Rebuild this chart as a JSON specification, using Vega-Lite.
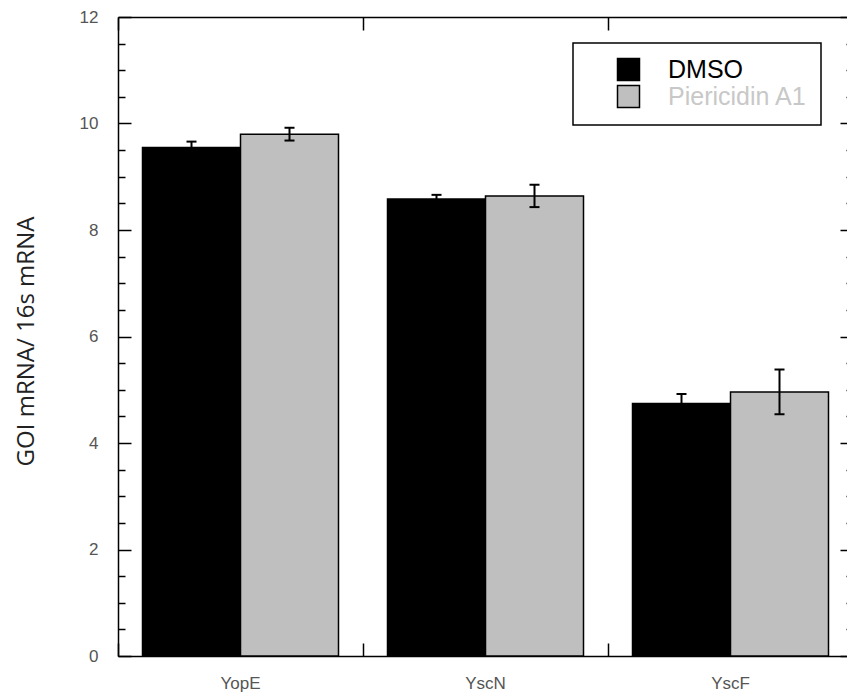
{
  "$schema": "https://vega.github.io/schema/vega-lite/v6.json",
  "width": 729,
  "height": 639,
  "autosize": {"type": "none"},
  "padding": {"left": 118, "top": 17, "right": 0, "bottom": 40},
  "background": "white",
  "config": {"view": {"stroke": null}, "font": "Liberation Sans"},
  "data": {
    "values": [
      {"gene": "YopE", "treatment": "DMSO", "value": 9.55, "lo": 9.44, "hi": 9.66},
      {"gene": "YopE", "treatment": "Piericidin A1", "value": 9.80, "lo": 9.68, "hi": 9.92},
      {"gene": "YscN", "treatment": "DMSO", "value": 8.58, "lo": 8.50, "hi": 8.66},
      {"gene": "YscN", "treatment": "Piericidin A1", "value": 8.64, "lo": 8.43, "hi": 8.85},
      {"gene": "YscF", "treatment": "DMSO", "value": 4.74, "lo": 4.57, "hi": 4.92},
      {"gene": "YscF", "treatment": "Piericidin A1", "value": 4.96, "lo": 4.54, "hi": 5.38}
    ]
  },
  "layer": [
    {
      "transform": [{"filter": "datum.treatment === 'DMSO'"}],
      "mark": {"type": "bar", "stroke": "black", "strokeWidth": 1.5},
      "encoding": {
        "x": {
          "field": "gene", "type": "nominal", "sort": ["YopE", "YscN", "YscF"],
          "scale": {"domain": ["YopE", "YscN", "YscF"], "range": [0, 735], "paddingInner": 0, "paddingOuter": 0},
          "axis": {
            "orient": "bottom", "title": null, "labelAngle": 0, "ticks": false,
            "domainColor": "black", "domainWidth": 1.5,
            "labelFontSize": 17, "labelColor": "#555", "labelPadding": 19, "labelFont": "Liberation Sans"
          }
        },
        "xOffset": {
          "field": "treatment", "type": "nominal",
          "scale": {"domain": ["DMSO", "Piericidin A1"], "paddingInner": 0, "paddingOuter": 0.25}
        },
        "y": {
          "field": "value", "type": "quantitative",
          "scale": {"domain": [0, 12], "nice": false, "zero": true},
          "axis": {
            "orient": "left", "grid": false, "format": "d", "ticks": false,
            "values": [0, 2, 4, 6, 8, 10, 12],
            "domainColor": "black", "domainWidth": 1.5,
            "labelFontSize": 17, "labelColor": "#555", "labelPadding": 20, "labelFont": "Liberation Sans",
            "title": "GOI mRNA/ 16s mRNA",
            "titleFont": "Open Sans", "titleFontSize": 24, "titleFontWeight": "normal", "titleColor": "#222",
            "titleAngle": -90, "titleX": -92, "titleY": 324, "titleAlign": "center", "titleBaseline": "middle"
          }
        },
        "fill": {
          "field": "treatment", "type": "nominal",
          "scale": {"domain": ["DMSO", "Piericidin A1"], "range": ["black", "#bfbfbf"]},
          "legend": {
            "title": null, "orient": "none", "legendX": 455, "legendY": 26,
            "symbolType": "square", "symbolSize": 484, "symbolStrokeColor": "black", "symbolStrokeWidth": 1.5,
            "symbolOpacity": 1,
            "labelFontSize": 25, "labelFont": "Liberation Sans", "labelLimit": 300,
            "padding": 14, "strokeColor": "black", "rowPadding": -2,
            "symbolOffset": 29, "labelOffset": 27,
            "encode": {
              "labels": {"update": {"fill": {"signal": "datum.label === 'DMSO' ? 'black' : '#c8c8c8'"}}},
              "legend": {"update": {"strokeWidth": {"value": 1.5}}}
            }
          }
        }
      }
    },
    {
      "transform": [{"filter": "datum.treatment === 'Piericidin A1'"}],
      "mark": {"type": "bar", "stroke": "black", "strokeWidth": 1.5},
      "encoding": {
        "x": {
          "field": "gene", "type": "nominal", "sort": ["YopE", "YscN", "YscF"],
          "axis": {
            "orient": "bottom", "offset": -13, "title": null, "labels": false, "domain": false,
            "tickBand": "extent", "tickSize": 13, "tickWidth": 1.5, "tickColor": "black"
          }
        },
        "xOffset": {"field": "treatment", "type": "nominal"},
        "y": {
          "field": "value", "type": "quantitative",
          "axis": {
            "orient": "left", "offset": -13, "grid": false, "labels": false, "domain": false, "title": null,
            "values": [0, 2, 4, 6, 8, 10, 12],
            "tickSize": 13, "tickWidth": 1.5, "tickColor": "black"
          }
        },
        "fill": {"field": "treatment", "type": "nominal"}
      }
    },
    {
      "mark": {"type": "rule", "strokeWidth": 2, "color": "black"},
      "encoding": {
        "x": {
          "field": "gene", "type": "nominal", "sort": ["YopE", "YscN", "YscF"],
          "axis": {
            "orient": "top", "title": null, "labels": false, "ticks": false,
            "domainColor": "black", "domainWidth": 1.5
          }
        },
        "xOffset": {"field": "treatment", "type": "nominal"},
        "y": {
          "field": "lo", "type": "quantitative",
          "axis": {
            "orient": "left", "offset": -7, "grid": false, "labels": false, "domain": false, "title": null,
            "values": [0.5, 1, 1.5, 2.5, 3, 3.5, 4.5, 5, 5.5, 6.5, 7, 7.5, 8.5, 9, 9.5, 10.5, 11, 11.5],
            "tickSize": 7, "tickWidth": 1.5, "tickColor": "black"
          }
        },
        "y2": {"field": "hi"}
      }
    },
    {
      "mark": {"type": "tick", "orient": "horizontal", "size": 10, "thickness": 2, "color": "black", "opacity": 1},
      "encoding": {
        "x": {
          "field": "gene", "type": "nominal", "sort": ["YopE", "YscN", "YscF"],
          "axis": {
            "orient": "top", "offset": -13, "title": null, "labels": false, "domain": false,
            "tickBand": "extent", "tickSize": 13, "tickWidth": 1.5, "tickColor": "black"
          }
        },
        "xOffset": {"field": "treatment", "type": "nominal"},
        "y": {
          "field": "hi", "type": "quantitative",
          "axis": {
            "orient": "right", "offset": -7, "grid": false, "labels": false, "domain": false, "title": null,
            "values": [0, 2, 4, 6, 8, 10, 12],
            "tickSize": 13, "tickWidth": 1.5, "tickColor": "black"
          }
        }
      }
    },
    {
      "mark": {"type": "tick", "orient": "horizontal", "size": 10, "thickness": 2, "color": "black", "opacity": 1},
      "encoding": {
        "x": {"field": "gene", "type": "nominal", "sort": ["YopE", "YscN", "YscF"], "axis": null},
        "xOffset": {"field": "treatment", "type": "nominal"},
        "y": {
          "field": "lo", "type": "quantitative",
          "axis": {
            "orient": "right", "offset": -1, "grid": false, "labels": false, "domain": false, "title": null,
            "values": [0.5, 1, 1.5, 2.5, 3, 3.5, 4.5, 5, 5.5, 6.5, 7, 7.5, 8.5, 9, 9.5, 10.5, 11, 11.5],
            "tickSize": 7, "tickWidth": 1.5, "tickColor": "black"
          }
        }
      }
    }
  ],
  "resolve": {"axis": {"x": "independent", "y": "independent"}}
}
